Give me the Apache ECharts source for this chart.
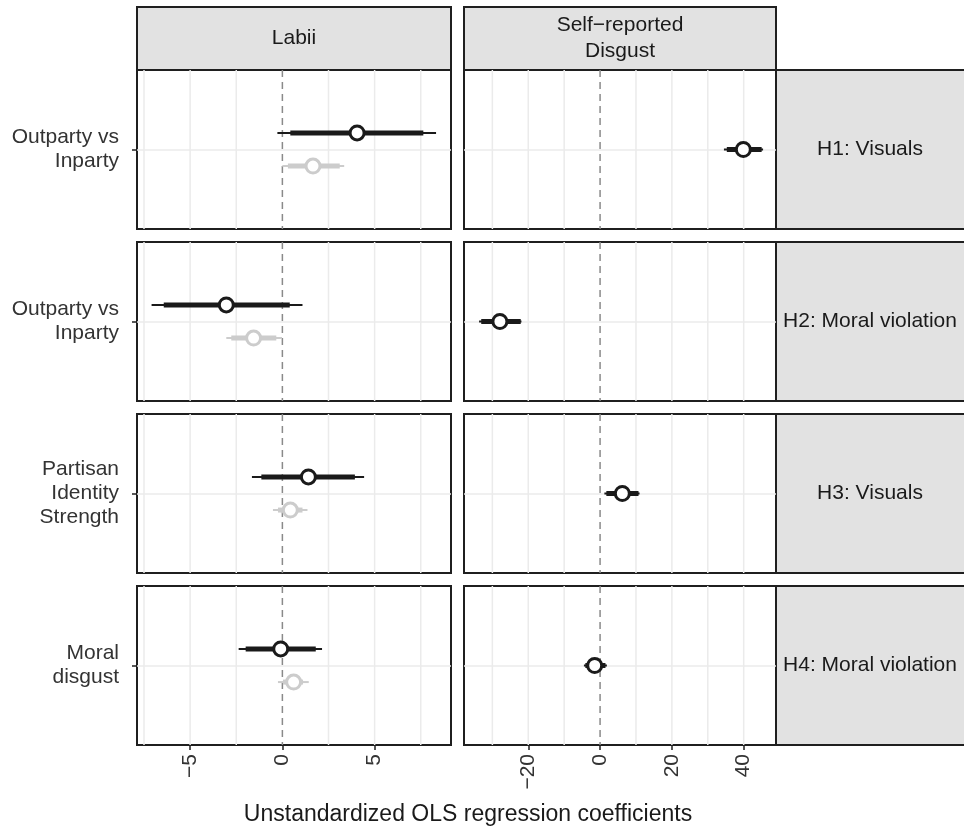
<!DOCTYPE html>
<html>
<head>
<meta charset="utf-8">
<script src="https://cdn.jsdelivr.net/npm/echarts@6/dist/echarts.min.js"></script>
<style>
  html, body { margin: 0; padding: 0; background: #fff; }
  #main { width: 964px; height: 839px; }
</style>
</head>
<body>
<div id="main"></div>
<script>
// row labels (y axis) and facet strips
const rowLabels = ['Outparty vs\nInparty', 'Outparty vs\nInparty', 'Partisan\nIdentity\nStrength', 'Moral\ndisgust'];
const hypotheses = ['H1: Visuals', 'H2: Moral violation', 'H3: Visuals', 'H4: Moral violation'];
const outcomes = ['Labii', 'Self\u2212reported\nDisgust'];

// Labii, black estimate (upper)
const labiiEst = [4.05, -3.04, 1.41, -0.09];
const labiiLoIn = [0.43, -6.43, -1.14, -1.99];
const labiiHiIn = [7.64, 0.40, 3.93, 1.81];
const labiiLoOut = [-0.27, -7.09, -1.65, -2.37];
const labiiHiOut = [8.33, 1.09, 4.43, 2.15];

// Labii, grey estimate (lower)
const labiiGreyEst = [1.66, -1.56, 0.43, 0.61];
const labiiGreyLoIn = [0.30, -2.77, -0.24, 0.03];
const labiiGreyHiIn = [3.11, -0.33, 1.09, 1.12];
const labiiGreyLoOut = [0.00, -3.04, -0.51, -0.24];
const labiiGreyHiOut = [3.35, -0.02, 1.36, 1.43];

// Self-reported disgust
const selfEst = [39.9, -27.9, 6.2, -1.5];
const selfLoIn = [35.3, -33.1, 1.75, -4.1];
const selfHiIn = [45.0, -22.1, 10.7, 1.5];
const selfLoOut = [34.5, -33.7, 1.2, -4.5];
const selfHiOut = [45.4, -21.9, 11.0, 1.9];

// axis ranges, ticks and grid lines
const labiiRange = [-7.88, 9.14];
const selfRange = [-37.9, 49.0];
const labiiTicks = [-5, 0, 5];
const selfTicks = [-20, 0, 20, 40];
const labiiGridLines = [-7.5, -5, -2.5, 2.5, 5, 7.5];
const selfGridLines = [-30, -20, -10, 10, 20, 30, 40];

const FONT = 'Liberation Sans, Arial, sans-serif';
const BLACK = '#1a1a1a';
const GREY = '#cccccc';

// layout
const colLeft = [137, 464];
const colWidth = [314, 312];
const rowTop = [70, 242, 414, 586];
const rowHeight = 159;
const stripTop = 7;

const chart = echarts.init(document.getElementById('main'));

const grids = [], xAxes = [], yAxes = [], series = [];

function segItem(width, color) {
  return function (params, api) {
    const a = api.coord([api.value(0), api.value(2)]);
    const b = api.coord([api.value(1), api.value(2)]);
    return { type: 'line', shape: { x1: a[0], y1: a[1], x2: b[0], y2: b[1] },
      style: { stroke: color, lineWidth: width } };
  };
}
function vLineItem(color, width, dash) {
  return function (params, api) {
    const x = api.coord([api.value(0), 0])[0];
    const cs = params.coordSys;
    return { type: 'line', shape: { x1: x, y1: cs.y, x2: x, y2: cs.y + cs.height },
      style: { stroke: color, lineWidth: width, lineDash: dash || null } };
  };
}

for (let r = 0; r < 4; r++) {
  for (let c = 0; c < 2; c++) {
    const g = r * 2 + c;
    grids.push({ left: colLeft[c], top: rowTop[r], width: colWidth[c], height: rowHeight,
      show: true, borderColor: '#1f1f1f', borderWidth: 2, backgroundColor: '#fff' });
    const range = c === 0 ? labiiRange : selfRange;
    xAxes.push({ type: 'value', gridIndex: g, min: range[0], max: range[1],
      axisLine: { show: false, onZero: false }, axisTick: { show: false }, axisLabel: { show: false },
      splitLine: { show: false } });
    yAxes.push({ type: 'value', gridIndex: g, position: 'left', min: -2.4, max: 2.4, interval: 2.4,
      axisLine: { show: false, onZero: false },
      axisTick: { show: c === 0, length: 5, lineStyle: { color: '#1f1f1f', width: 1.5 }, customValues: [0] },
      axisLabel: { show: c === 0, customValues: [0], margin: 18, fontSize: 21, lineHeight: 24,
        fontFamily: FONT, color: '#333', align: 'right',
        formatter: v => (Math.abs(v) < 1e-9 ? rowLabels[r] : '') },
      splitLine: { show: true, lineStyle: { color: '#ebebeb', width: 1.5 } } });

    // vertical grid lines and zero reference
    series.push({ type: 'custom', xAxisIndex: g, yAxisIndex: g, silent: true, z: 1,
      renderItem: vLineItem('#ebebeb', 1.5),
      data: (c === 0 ? labiiGridLines : selfGridLines).map(v => [v]) });
    series.push({ type: 'custom', xAxisIndex: g, yAxisIndex: g, silent: true, z: 2,
      renderItem: vLineItem('#8a8a8a', 1.5, [7, 5]), data: [[0]] });

    const groups = c === 0
      ? [[labiiEst, labiiLoIn, labiiHiIn, labiiLoOut, labiiHiOut, 0.5, BLACK],
         [labiiGreyEst, labiiGreyLoIn, labiiGreyHiIn, labiiGreyLoOut, labiiGreyHiOut, -0.5, GREY]]
      : [[selfEst, selfLoIn, selfHiIn, selfLoOut, selfHiOut, 0, BLACK]];
    groups.forEach(([est, loIn, hiIn, loOut, hiOut, y, color]) => {
      series.push({ type: 'custom', xAxisIndex: g, yAxisIndex: g, z: 3,
        encode: { x: [0, 1], y: 2 }, renderItem: segItem(2, color),
        data: [[loOut[r], hiOut[r], y]] });
      series.push({ type: 'custom', xAxisIndex: g, yAxisIndex: g, z: 4,
        encode: { x: [0, 1], y: 2 }, renderItem: segItem(5, color),
        data: [[loIn[r], hiIn[r], y]] });
      series.push({ type: 'scatter', xAxisIndex: g, yAxisIndex: g, z: 5,
        symbol: 'circle', symbolSize: 14,
        itemStyle: { color: '#fff', borderColor: color, borderWidth: 3, opacity: 1 },
        data: [[est[r], y]] });
    });
  }
}

// tick labels on the bottom row only
[0, 1].forEach(c => {
  const g = 6 + c;
  const range = c === 0 ? labiiRange : selfRange;
  const ticks = c === 0 ? labiiTicks : selfTicks;
  xAxes.push({ type: 'value', gridIndex: g, position: 'bottom', min: range[0], max: range[1],
    splitNumber: c === 0 ? 3 : 4,
    axisLine: { show: false, onZero: false },
    axisTick: { show: true, length: 5, lineStyle: { color: '#1f1f1f', width: 1.5 }, customValues: ticks },
    axisLabel: { show: true, customValues: ticks, rotate: 90, margin: 9, fontSize: 21,
      fontFamily: FONT, color: '#333', hideOverlap: false,
      formatter: v => String(v).replace('-', '\u2212') },
    splitLine: { show: false } });
});

// facet strips
const graphic = [];
[0, 1].forEach(c => {
  graphic.push({ type: 'rect', shape: { x: colLeft[c], y: stripTop, width: colWidth[c], height: rowTop[0] - stripTop },
    style: { fill: '#e2e2e2', stroke: '#1f1f1f', lineWidth: 2 } });
  graphic.push({ type: 'text', x: colLeft[c] + colWidth[c] / 2, y: (stripTop + rowTop[0]) / 2,
    style: { text: outcomes[c], fill: '#1a1a1a', font: '21px ' + FONT, align: 'center',
      verticalAlign: 'middle', lineHeight: 26 } });
});
const stripX = colLeft[1] + colWidth[1];
rowTop.forEach((t, r) => {
  graphic.push({ type: 'rect', shape: { x: stripX, y: t, width: 200, height: rowHeight },
    style: { fill: '#e2e2e2', stroke: '#1f1f1f', lineWidth: 2 } });
  graphic.push({ type: 'text', x: stripX + 94, y: t + rowHeight / 2,
    style: { text: hypotheses[r], fill: '#1a1a1a', font: '21px ' + FONT, align: 'center',
      verticalAlign: 'middle' } });
});
graphic.push({ type: 'text', x: 468, y: 815,
  style: { text: 'Unstandardized OLS regression coefficients', fill: '#1a1a1a',
    font: '23px ' + FONT, align: 'center', verticalAlign: 'middle' } });

chart.setOption({
  animation: false,
  backgroundColor: '#fff',
  grid: grids,
  xAxis: xAxes,
  yAxis: yAxes,
  series: series,
  graphic: graphic
});
</script>
</body>
</html>
